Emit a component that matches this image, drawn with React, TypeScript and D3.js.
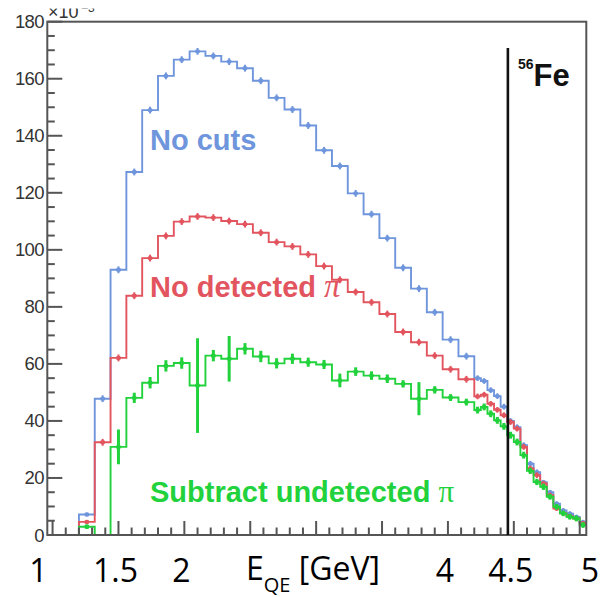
import React from 'react';
import * as d3 from 'd3';

// Bin edges of the E_QE histogram (GeV)
const binEdges = [
  0.96, 1.08, 1.2, 1.32, 1.44, 1.56, 1.68, 1.8, 1.92, 2.04, 2.16, 2.28, 2.4, 2.52,
  2.64, 2.76, 2.88, 3.0, 3.12, 3.24, 3.36, 3.48, 3.6, 3.72, 3.84, 3.96, 4.08, 4.2,
  4.25, 4.3, 4.35, 4.4, 4.45, 4.5, 4.55, 4.6, 4.65, 4.7, 4.75, 4.8, 4.85, 4.9,
  4.95, 5.0, 5.05,
];

// Series values (units of 10^-3)
const noCuts = [
  0, 0, 7.2, 47.8, 93, 127.3, 149, 161, 166.7, 169.6, 168, 166, 163.7, 159.3, 153.3,
  149.2, 143.6, 134.9, 129.4, 119.8, 112.5, 104.1, 93.7, 86.4, 78.1, 68.5, 62.7,
  55, 54, 50.8, 48.7, 45, 40, 37.8, 31.5, 25, 22, 18.5, 15, 11, 8.6, 7.5, 6.3, 4.5,
];
const noCutsErr = [
  0, 0, 0.6, 1.2, 1.2, 1.2, 1.2, 1.2, 1.2, 1.2, 1.2, 1.2, 1.2, 1.2, 1.2,
  1.2, 1.2, 1.2, 1.2, 1.2, 1.2, 1.2, 1.2, 1.2, 1.2, 1.2, 1.2,
  1, 1, 1, 1, 1, 1, 1, 1, 1, 1, 0.8, 0.8, 0.8, 0.8, 0.8, 0.8, 0.8,
];
const noDetectedPi = [
  0, 0, 4.6, 32.5, 62.1, 83.9, 97.1, 104.9, 109.9, 111.7, 111.3, 110.1, 109, 106, 102.7,
  101.2, 98.4, 94.3, 89.5, 85.2, 81.6, 77.5, 71.2, 67.6, 62.9, 58.1, 54.6,
  48.6, 49.2, 46, 43.9, 42, 39.6, 37.3, 30.9, 23.3, 21, 18.1, 14, 9.3, 7.6, 6.6, 5.8, 4.1,
];
const noDetectedPiErr = [
  0, 0, 0.6, 1.2, 1.2, 1.2, 1.2, 1.2, 1.2, 1.2, 1.2, 1.2, 1.2, 1.2, 1.2,
  1.2, 1.2, 1.2, 1.2, 1.2, 1.2, 1.2, 1.2, 1.2, 1.2, 1.2, 1.2,
  1, 1, 1, 1, 1, 1, 1, 1, 1, 1, 0.8, 0.8, 0.8, 0.8, 0.8, 0.8, 0.8,
];
const subtractUndetPi = [
  0, 0, 2.9, 0, 30.9, 48.1, 53.4, 59.3, 60.3, 52.4, 62.9, 61.8, 65.3, 62.6, 60.2,
  61.8, 60.6, 59.8, 54.2, 57.3, 55.9, 54.8, 53, 47.8, 50.9, 48.2, 46.6,
  43.8, 44.9, 42.5, 40.2, 38.1, 35, 32.6, 28, 22.5, 18.6, 16.9, 13.4, 9.9, 7.6, 6.4, 5.8, 3.5,
];
const subtractUndetPiErr = [
  0, 0, 0.8, 0, 6.1, 1.8, 2, 2, 2, 16.6, 2, 8, 2, 2, 1.8,
  1.8, 1.6, 1.6, 2.4, 1.5, 1.5, 1.5, 1.3, 5.8, 1.3, 1.2, 1.2,
  1.2, 1.2, 1.2, 1.2, 1.2, 1.2, 1.2, 1.2, 1.1, 1.1, 1.1, 1, 1, 1, 1, 1, 1,
];

const yTickValues = [0, 20, 40, 60, 80, 100, 120, 140, 160, 180];
const xTickValues = [1, 1.5, 2, 2.5, 3, 3.5, 4, 4.5, 5];
const xOverlayLabels = ['1', '1.5', '2', '4', '4.5', '5'];
const feLineEnergy = 4.455;

const BLUE = '#6f95dc';
const RED = '#e2555f';
const GREEN = '#22d23c';

export default function App() {
  const W = 600;
  const H = 597;
  const x = d3.scaleLinear().domain([0.96, 5.05]).range([47.3, 586.3]);
  const y = d3.scaleLinear().domain([0, 180]).range([535, 21.7]);
  const line = d3
    .line<[number, number]>()
    .x((d) => x(d[0]))
    .y((d) => y(d[1]));

  const stepPoints = (vals: number[]): [number, number][] =>
    vals.flatMap((v, i) => [
      [binEdges[i], v] as [number, number],
      [binEdges[i + 1], v] as [number, number],
    ]);

  const series = [
    { vals: noCuts, errs: noCutsErr, color: BLUE, ew: 2 },
    { vals: noDetectedPi, errs: noDetectedPiErr, color: RED, ew: 2 },
    { vals: subtractUndetPi, errs: subtractUndetPiErr, color: GREEN, ew: 3 },
  ];

  const yMinor = d3.range(0, 180.001, 5);
  const xMinor = d3.range(1, 5.0001, 0.1);
  const axisColor = '#555';
  const frameL = x(0.96);
  const frameR = x(5.05);
  const frameT = y(180);
  const frameB = y(0);

  const overlayX = (lab: string, i: number) => {
    const v = parseFloat(lab);
    if (i === 0) return { x: x(v) - 5, anchor: 'end' };
    if (i === xOverlayLabels.length - 1) return { x: x(v) + 1, anchor: 'start' };
    return { x: x(v) - 3, anchor: 'middle' };
  };

  return (
    <svg
      width={W}
      height={H}
      viewBox={`0 0 ${W} ${H}`}
      style={{ position: 'absolute', left: 0, top: 0, background: '#fff' }}
    >
      <rect x={0} y={0} width={W} height={H} fill="#fff" />

      {/* exponent label, partly hidden at top */}
      <g fill="#333" fontFamily="'Liberation Sans', Arial, sans-serif">
        <text x={48} y={17.5} fontSize={18}>
          ×10
        </text>
        <text x={81} y={12} fontSize={12}>
          −3
        </text>
      </g>
      <rect x={40} y={0} width={80} height={8.5} fill="#fff" />

      {/* histograms */}
      {series.map((s, si) => (
        <g key={si}>
          <path
            d={line(stepPoints(s.vals)) || ''}
            fill="none"
            stroke={s.color}
            strokeWidth={1.9}
            strokeLinejoin="miter"
          />
          {s.vals.map((v, i) => {
            if (v <= 0) return null;
            const cx = x((binEdges[i] + binEdges[i + 1]) / 2);
            return (
              <g key={i}>
                <line
                  x1={cx}
                  x2={cx}
                  y1={y(v - s.errs[i])}
                  y2={y(v + s.errs[i])}
                  stroke={s.color}
                  strokeWidth={s.ew}
                />
                <ellipse cx={cx} cy={y(v)} rx={2.6} ry={2.2} fill={s.color} />
              </g>
            );
          })}
        </g>
      ))}

      {/* frame */}
      <rect
        x={frameL}
        y={frameT}
        width={frameR - frameL}
        height={frameB - frameT}
        fill="none"
        stroke={axisColor}
        strokeWidth={2}
      />

      {/* y ticks */}
      {yMinor.map((v, i) => {
        const major = Math.abs(v % 20) < 1e-6;
        return (
          <line
            key={'ym' + i}
            x1={frameL}
            x2={frameL + (major ? 15 : 7.5)}
            y1={y(v)}
            y2={y(v)}
            stroke={axisColor}
            strokeWidth={2}
          />
        );
      })}
      {yTickValues.map((v) => (
        <text
          key={'yl' + v}
          x={44}
          y={y(v) + 6.5}
          textAnchor="end"
          fontSize={18.5}
          fill="#333"
          fontFamily="'Liberation Sans', Arial, sans-serif"
          letterSpacing={-0.6}
        >
          {v}
        </text>
      ))}

      {/* x ticks */}
      {xMinor.map((v, i) => {
        const major = xTickValues.some((t) => Math.abs(t - v) < 1e-6);
        return (
          <line
            key={'xm' + i}
            x1={x(v)}
            x2={x(v)}
            y1={frameB}
            y2={frameB - (major ? 14 : 7.5)}
            stroke={axisColor}
            strokeWidth={2}
          />
        );
      })}

      {/* 56Fe beam energy line */}
      <line
        x1={x(feLineEnergy)}
        x2={x(feLineEnergy)}
        y1={48}
        y2={frameB}
        stroke="#111"
        strokeWidth={2.6}
      />
      <text
        x={518}
        y={86}
        fill="#111"
        fontFamily="'Liberation Sans', Arial, sans-serif"
        fontWeight="bold"
      >
        <tspan fontSize={14} dy={-17}>
          56
        </tspan>
        <tspan fontSize={31} dy={17}>
          Fe
        </tspan>
      </text>

      {/* series labels */}
      <text
        x={150}
        y={150}
        fill={BLUE}
        fontSize={29}
        fontWeight="bold"
        fontFamily="'Liberation Sans', Arial, sans-serif"
      >
        No cuts
      </text>
      <text
        x={150}
        y={297}
        fill={RED}
        fontSize={29}
        fontWeight="bold"
        fontFamily="'Liberation Sans', Arial, sans-serif"
      >
        No detected{' '}
        <tspan fontFamily="'Liberation Serif', serif" fontStyle="italic" fontWeight="normal" fontSize={33}>
          π
        </tspan>
      </text>
      <text
        x={150}
        y={502}
        fill={GREEN}
        fontSize={29}
        fontWeight="bold"
        fontFamily="'Liberation Sans', Arial, sans-serif"
      >
        Subtract undetected{' '}
        <tspan fontFamily="'Liberation Serif', serif" fontWeight="normal" fontSize={31}>
          π
        </tspan>
      </text>

      {/* overlay x labels */}
      {xOverlayLabels.map((lab, i) => {
        const p = overlayX(lab, i);
        return (
          <text
            key={'xl' + i}
            x={p.x}
            y={582}
            textAnchor={p.anchor as any}
            fontSize={32}
            fill="#000"
            fontFamily="'Open Sans', sans-serif"
          >
            {lab}
          </text>
        );
      })}
      <text x={246} y={580} fontSize={32} fill="#000" fontFamily="'Open Sans', sans-serif">
        E
        <tspan fontSize={20} dy={12}>
          QE
        </tspan>
        <tspan dy={-12}> [GeV]</tspan>
      </text>
    </svg>
  );
}
